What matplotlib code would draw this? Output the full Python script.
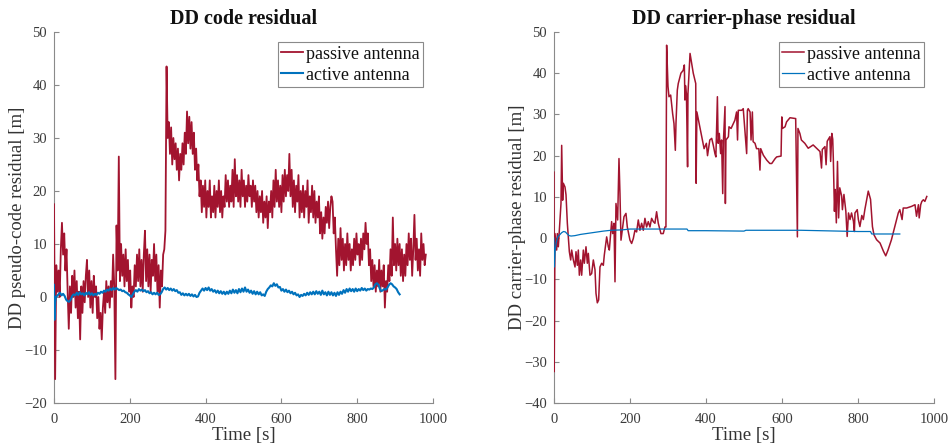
import numpy as np
import matplotlib
matplotlib.use("Agg")
import matplotlib.pyplot as plt

# ---------------- data ----------------
# Left: DD code residual, passive antenna (sampled every 3 s from 0 to 981 s)
code_passive_t = np.arange(0, 982, 3)
code_passive = [
    17.5, -15.5, 6, 1, 5, 0, 9, 14, 8, 12, 5, 9, 1, -6, 2, -3, 4, 0, 5, -2,
    3, -4, 1, -8, 2, -3, 3, -1, 4, 7, 0, 5, -2, 3, -3, 4, 0, 2, -4, 0,
    -6, -3, -8, -2, 1, -3, 3, -1, 2, -2, 3, 0, 8, 2, -15.5, 13.5, 5, 26.5, 3, 10,
    4, 8, 2, 9, 3, 7, 1, 5, -2, 2, 0, 6, 2, 8, 3, 9, 2, 7, 1, 8,
    12.5, 3, 9, 2, 8, 1, 7, 4, 10, 3, 8, 1, 6, -2, 5, 2, 8, 9, 12.5, 43.5,
    30, 33, 27, 32, 25, 30, 26, 29, 24, 28, 22, 27, 24, 29, 25, 31, 27, 35, 29, 34,
    28, 33, 27, 31, 24, 28, 22, 25, 19, 22, 16, 21, 17, 22, 15, 20, 17, 22, 15, 19,
    16, 21, 15, 20, 17, 22, 16, 20, 15, 19, 17, 23, 18, 22, 17, 21, 18, 24, 17, 26,
    19, 23, 18, 22, 17, 24, 19, 22, 17, 21, 18, 23, 19, 21, 17, 22, 18, 21, 16, 20,
    15, 19, 16, 20, 14, 18, 15, 19, 13, 18, 16, 20, 15, 22, 17, 24, 18, 22, 17, 21,
    16, 23, 18, 24, 19, 23, 20, 27, 19, 24, 17, 22, 16, 21, 18, 23, 15, 20, 16, 21,
    15, 20, 17, 22, 14, 19, 16, 21, 15, 20, 14, 18, 15, 19, 12, 16, 11, 15, 12, 17,
    14, 18, 13, 17, 19, 18, 12, 15, 9, 4, 11, 6, 13, 7, 11, 5, 10, 6, 12, 7,
    10, 5, 9, 6, 11, 7, 12, 8, 10, 6, 11, 7, 12, 9, 14, 10, 12, 6, 9, 3,
    7, 2, 6, 1, 5, 2, 7, 1, 5, 2, 6, -2, 3, 1, 6, 3, 9, 4, 15, 6,
    10, 5, 11, 6, 10, 4, 9, 3, 8, 4, 10, 6, 12, 7, 11, 4, 9, 15.5, 7, 11,
    5, 9, 4, 12, 7, 10, 6, 8,
]

# Left: DD code residual, active antenna (every 4 s from 0 to 912 s, plus initial dip)
code_active_t = [0, 1, 3, 5] + list(range(8, 913, 4))
code_active = [
    2.3, -4.3, -1, 0,
    0.2, 0.5, 0.8, 0.3, 0.6, 0.2, -0.5, -0.8, -0.9, -0.5, 0.2, 0.5, 0.3, 0.8, 0.4, 0.9,
    0.5, 0.7, 0.3, 0.8, 0.5, 0.9, 0.4, 0.7, 0.3, 0.6, 0.4, 0.8, 0.6, 1.0, 0.8, 1.2,
    1.0, 1.4, 1.2, 1.6, 1.3, 1.7, 1.4, 1.7, 1.5, 1.3, 1.4, 1.1, 1.2, 0.9, 0.8, 0.5,
    0.3, 0.0, 0.5, 1.0, 1.3, 1.0, 1.5, 1.2, 1.4, 1.1, 1.3, 0.9, 1.1, 0.7, 0.9, 0.5,
    0.8, 0.5, 0.8, 0.4, 0.5, 0.9, 1.5, 1.8, 1.4, 1.7, 1.3, 1.6, 1.2, 1.5, 1.1, 1.3,
    0.8, 0.9, 0.4, 0.7, 0.3, 0.6, 0.3, 0.6, 0.2, 0.5, 0.1, 0.4, 0.0, 0.1, 0.8, 1.2,
    1.6, 1.2, 1.7, 1.3, 1.8, 1.2, 1.5, 1.0, 1.3, 0.8, 1.2, 0.7, 1.1, 0.6, 1.0, 0.5,
    1.0, 0.6, 1.2, 0.7, 1.4, 0.8, 1.3, 0.7, 1.5, 0.9, 1.6, 1.0, 1.8, 1.0, 1.4, 0.8,
    1.2, 0.6, 1.1, 0.5, 1.0, 0.5, 0.9, 0.3, 0.5, 0.2, 1.0, 1.5, 1.8, 2.2, 2.0, 2.6,
    2.1, 2.4, 1.8, 1.9, 1.2, 1.5, 1.0, 1.4, 0.9, 1.2, 0.7, 1.0, 0.5, 0.8, 0.3, 0.5,
    0.0, 0.4, 0.2, 0.6, 0.3, 0.8, 0.4, 0.9, 0.5, 1.0, 0.5, 1.1, 0.6, 1.0, 0.4, 1.2,
    0.5, 0.9, 0.3, 1.0, 0.4, 0.9, 0.3, 0.8, 0.2, 0.9, 0.4, 1.0, 0.6, 1.3, 0.8, 1.5,
    1.0, 1.6, 1.1, 1.5, 1.0, 1.6, 1.1, 1.5, 1.2, 1.7, 1.3, 1.6, 1.2, 1.5, 1.4, 1.6,
    1.5, 1.8, 2.4, 2.6, 2.3, 1.5, 1.1, 1.3, 1.5, 1.4, 1.8, 2.3, 2.6, 2.4, 2.0, 1.8,
    1.5, 0.9, 0.5,
]

# Right: DD carrier-phase residual, passive antenna
phase_passive_t = [
    0, 0.5, 2.6, 7, 8.8, 11.4, 15.8, 18.4, 20.2, 22.8, 24.6, 28.9, 31.6, 35.1, 37.7,
    40.4, 43.9, 46.5, 50.9, 55.3, 57.9, 61.4, 64, 66.7, 70.2, 72.8, 77.2, 79.8, 84.2,
    87.7, 90.3, 94.7, 99.1, 103.5, 107.9, 110.5, 114, 117.5, 121, 125.4, 129.8, 132.4,
    138.6, 142.9, 145.6, 151.7, 154.4, 157.9, 160.5, 163.1, 167.5, 171, 173.6, 176.3,
    180.7, 184.2, 189.4, 192.9, 199.9, 204.3, 208.7, 213, 217.4, 221.8, 226.2, 230.6,
    235, 239.3, 243.7, 248.1, 252.5, 256.9, 261.3, 265.6, 270, 274.4, 281.4, 287.5,
    292, 294.6, 296.4, 300, 302.6, 307, 312.2, 315.7, 319.3, 321, 324.5, 327, 334,
    340, 343, 344.5, 346, 348.5, 351.5, 352.5, 358, 366.5, 373, 374, 376, 382, 389,
    395, 401, 404, 410, 415, 419, 423.5, 426, 430, 432, 435, 438.5, 441, 444, 446,
    450, 451, 452.5, 459, 460.5, 466, 472, 476, 480.5, 483, 485, 494, 498, 507, 509,
    511, 516, 518.5, 522, 524, 529, 533, 539, 542, 544, 551, 560, 568, 573, 582, 586,
    597.5, 599.5, 601, 608, 612, 621, 636, 640.5, 642, 647, 651, 660, 669, 682, 691,
    700, 704, 706, 713, 716, 719, 726, 728, 731, 733.5, 735, 738, 740, 743, 746, 749,
    752, 757, 759, 763, 768, 771.5, 775, 779, 783, 788, 790.5, 792, 798, 801, 805,
    810, 814, 818, 827, 833, 838, 842, 849, 858, 867, 873, 879, 888, 897, 906, 910,
    916, 919, 928, 941, 950, 954, 959, 961, 965, 968, 972, 976, 981,
]
phase_passive = [
    16, -32.4, 1.1, -2.9, 1.1, -2.1, 4.4, 8.4, 22.5, 9.2, 13.3, 12.4, 10.5, 3.6, 0.3,
    -3.3, -5.3, -2.9, -5.3, -7, -3.3, -6.6, -2.9, -9, -5.3, -9, -2.9, -6.1, -2.1,
    -6.1, -3.7, -9, -8.6, -5.3, -7.7, -13.4, -15.7, -15, -7, -6.1, -6.6, -4.1,
    0.3, -2.1, -2.9, 4, 1.1, 3.6, -10.6, 8.4, 4.4, 19.3, 10.8, -0.5,
    2.7, 5.2, 6, 2.7, -0.5, -1.3, -0.1, 1.9, 1.5, 4.4, 1.9, 3.6,
    1.9, 4.8, 2.7, 4, 2.7, 4.8, 4, 3.6, 6.4, 3.6, 1.1, 1.1,
    2.7, 2.7, 46.8, 36.8, 34.3, 34.7, 30.2, 27.8, 21.3, 27.8, 35.9, 37.5, 40,
    40.7, 42, 33.5, 37, 35, 17.3, 35, 44.8, 40, 37.5, 13.3, 30.6, 27.8, 24.6,
    21.7, 23, 20, 23.8, 24.2, 22.6, 20.5, 19.7, 34.3, 23, 25.4, 20.5, 23.8, 10.8, 23.8,
    31.9, 8.4, 23.8, 24.6, 27, 26.6, 27.8, 28.6, 30.6, 23.8, 31, 31, 31.4, 20.5, 31,
    31.4, 30.6, 23.8, 30.6, 23.4, 23, 21.7, 21.7, 16.5, 21.7, 20.1, 18.9, 18.1, 18.1, 19.3, 19.7,
    19.9, 29.4, 26.6, 27, 28.2, 29.2, 29, 0.3, 26.6, 25.4, 23.8, 23, 21.8, 22.6, 21.8,
    21, 17, 21.5, 22.2, 17.8, 23.5, 24.6, 18.6, 25.4, 24, 19.4, 6.5, 11.8, 3.7, 18.6, 4.9,
    12.2, 10.2, 6.9, 10.6, 6.5, 0.4, 6.1, 4.5, 6.1, 4.1, 1.6, 6.1, 6.9, 4.5, 2.8,
    5.5, 4.5, 6.9, 11.4, 9.4, 2.8, 0.8, -0.4, -1.2, -3.2, -4.3, -2.9, -0.4, 2.8, 6.1, 6.9,
    4.5, 7.3, 7.3, 7.7, 8.1, 5.3, 8.1, 4.9, 8.1, 8.9, 9.3, 8.9, 10.1,
]

# Right: DD carrier-phase residual, active antenna
phase_active_t = [0, 1, 3, 6, 10, 15, 20, 25, 30, 35, 40, 45, 55, 70, 100, 130, 150,
                  180, 200, 250, 300, 350, 353, 400, 500, 505, 600, 650, 700, 800,
                  833, 836, 910]
phase_active = [0, -7, -3, -1, 0.3, 0.8, 1.3, 1.6, 1.5, 1.0, 0.6, 0.5, 0.6, 0.9, 1.3,
                1.7, 1.9, 2.0, 2.2, 2.2, 2.2, 2.2, 1.8, 1.8, 1.7, 1.9, 1.9, 1.9, 1.8,
                1.6, 1.6, 1.0, 1.0]

labels = ["passive antenna", "active antenna"]
titles = ["DD code residual", "DD carrier-phase residual"]
ylabels = ["DD pseudo-code residual [m]", "DD carrier-phase residual [m]"]
xlabel = "Time [s]"

# ---------------- style ----------------
RED = "#A2142F"
BLUE = "#0072BD"
plt.rcParams["font.family"] = ["Liberation Serif", "DejaVu Serif"]

fig = plt.figure(figsize=(9.49, 4.48), dpi=100)
ax1 = fig.add_axes([54 / 949, 45 / 448, 379 / 949, 371 / 448])
ax2 = fig.add_axes([554 / 949, 45 / 448, 380 / 949, 371 / 448])


def style(ax, ylim, yticks, title, ylabel):
    ax.set_xlim(0, 1000)
    ax.set_ylim(*ylim)
    ax.set_xticks(range(0, 1001, 200))
    ax.set_yticks(yticks)
    for s in ["top", "right"]:
        ax.spines[s].set_visible(False)
    for s in ["left", "bottom"]:
        ax.spines[s].set_color("#8a8a8a")
        ax.spines[s].set_linewidth(0.8)
    ax.tick_params(direction="in", length=3.5, width=0.8, color="#8a8a8a",
                   labelsize=10.5, labelcolor="#3a3a3a")
    ax.tick_params(axis="x", pad=7)
    ax.tick_params(axis="y", pad=5)
    ax.set_title(title, fontsize=14.5, fontweight="bold", pad=6, color="#111111")
    ax.set_xlabel(xlabel, fontsize=13.5, color="#333333", labelpad=1)
    ax.set_ylabel(ylabel, fontsize=13.5, color="#333333")
    ax.yaxis.set_label_coords(-0.073, 0.5)
    leg = ax.legend(loc="upper right", fontsize=13, frameon=True, fancybox=False,
                    edgecolor="#8a8a8a", framealpha=1, borderaxespad=0.55,
                    handlelength=1.2, handletextpad=0.15, labelspacing=0.22,
                    borderpad=0.2)
    leg.get_frame().set_linewidth(0.8)
    leg.set_zorder(5)
    for t in leg.get_texts():
        t.set_color("#111111")


ax1.plot(code_passive_t, code_passive, color=RED, lw=1.3, label=labels[0], zorder=3)
ax1.plot(code_active_t, code_active, color=BLUE, lw=1.5, label=labels[1], zorder=3)
style(ax1, (-20, 50), range(-20, 51, 10), titles[0], ylabels[0])

ax2.plot(phase_passive_t, phase_passive, color=RED, lw=1.1, label=labels[0], zorder=3)
ax2.plot(phase_active_t, phase_active, color=BLUE, lw=0.9, label=labels[1], zorder=3)
style(ax2, (-40, 50), range(-40, 51, 10), titles[1], ylabels[1])

fig.savefig("out.png", dpi=100)
